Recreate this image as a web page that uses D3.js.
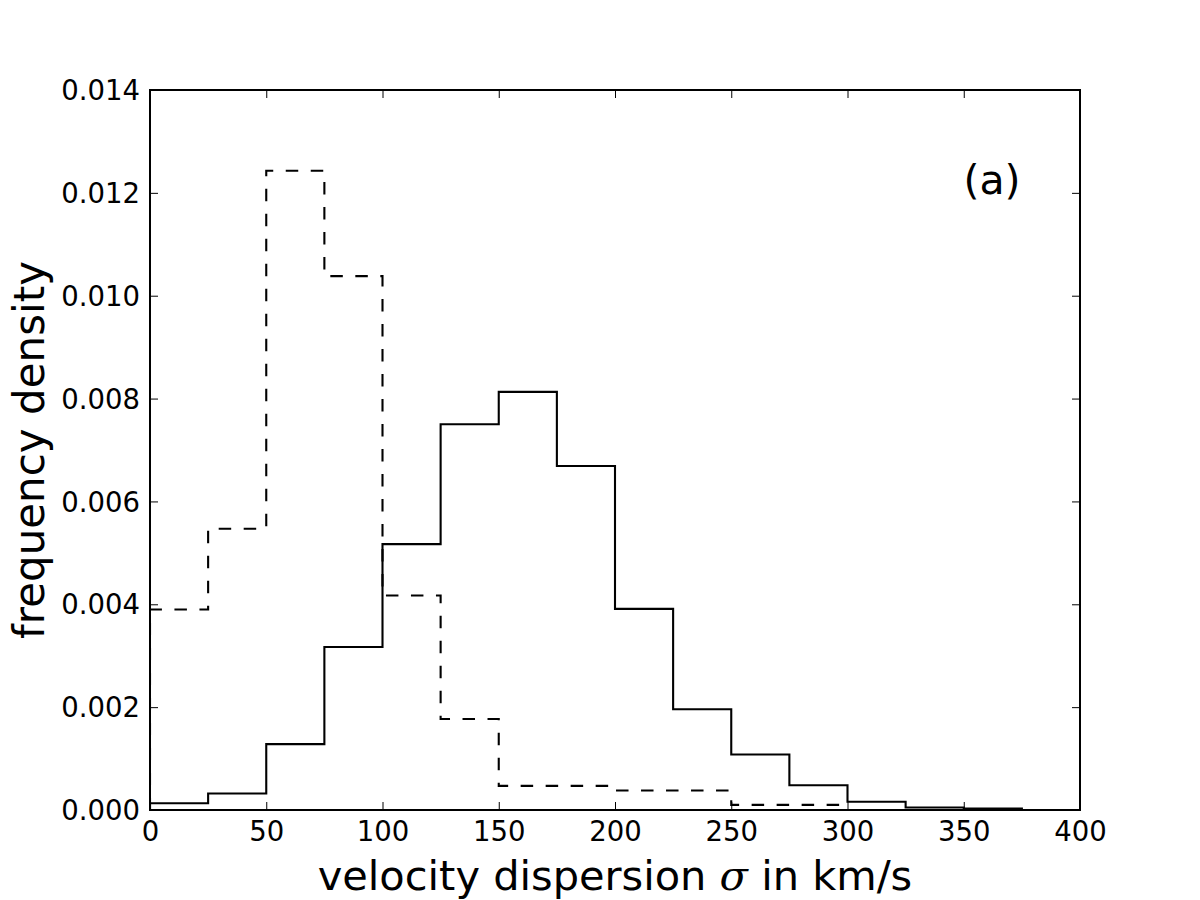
<!DOCTYPE html>
<html>
<head>
<meta charset="utf-8">
<script src="https://cdn.jsdelivr.net/npm/d3@7"></script>
<style>
  html, body { margin: 0; padding: 0; background: #fff; }
  svg { display: block; font-family: "DejaVu Sans", sans-serif; }
</style>
</head>
<body>
<svg id="chart" width="1200" height="900"></svg>
<script>
// ---- data ----
const solidEdges = [0, 25, 50, 75, 100, 125, 150, 175, 200, 225, 250, 275, 300, 325, 350, 375, 400];
const solidValues = [0.00013, 0.00032, 0.00128, 0.00317, 0.00517, 0.0075, 0.00813, 0.00669,
                     0.00391, 0.00196, 0.00108, 0.00048, 0.00016, 0.00005, 0.00003, 0.0];
const dashedEdges = [0, 25, 50, 75, 100, 125, 150, 200, 250, 300];
const dashedValues = [0.0039, 0.00547, 0.01243, 0.01038, 0.00417, 0.00177, 0.00047, 0.00038, 0.0001];
const xTicks = [0, 50, 100, 150, 200, 250, 300, 350, 400];
const yTicks = [0, 0.002, 0.004, 0.006, 0.008, 0.010, 0.012, 0.014];
const xLabel = "velocity dispersion ";
const xLabelSym = "σ";
const xLabelTail = " in km/s";
const yLabel = "frequency density";
const panelLabel = "(a)";

// ---- layout ----
const W = 1200, H = 900;
const m = { left: 150, right: 1080, top: 90, bottom: 810 };
const svg = d3.select("#chart");
const x = d3.scaleLinear().domain([0, 400]).range([m.left, m.right]);
const y = d3.scaleLinear().domain([0, 0.014]).range([m.bottom, m.top]);

function stepPath(edges, values) {
  const p = d3.path();
  p.moveTo(x(edges[0]), y(0));
  values.forEach((v, i) => {
    p.lineTo(x(edges[i]), y(v));
    p.lineTo(x(edges[i + 1]), y(v));
  });
  p.lineTo(x(edges[edges.length - 1]), y(0));
  return p.toString();
}

svg.append("defs").append("clipPath").attr("id", "clip")
  .append("rect").attr("x", m.left).attr("y", m.top)
  .attr("width", m.right - m.left).attr("height", m.bottom - m.top);

const plot = svg.append("g").attr("clip-path", "url(#clip)");
plot.append("path").attr("d", stepPath(dashedEdges, dashedValues))
  .attr("fill", "none").attr("stroke", "#000").attr("stroke-width", 2.1)
  .attr("stroke-dasharray", "12.5,12.5").attr("stroke-linejoin", "miter");
plot.append("path").attr("d", stepPath(solidEdges, solidValues))
  .attr("fill", "none").attr("stroke", "#000").attr("stroke-width", 2.1)
  .attr("stroke-linejoin", "miter");

// ---- axes (ticks inside, all four sides) ----
const tickLen = 8;
const fmtY = d3.format(".3f");
const axB = svg.append("g").attr("transform", `translate(0,${m.bottom})`)
  .call(d3.axisBottom(x).tickValues(xTicks).tickSize(-tickLen).tickPadding(11).tickFormat(d3.format("d")));
const axT = svg.append("g").attr("transform", `translate(0,${m.top})`)
  .call(d3.axisTop(x).tickValues(xTicks).tickSize(-tickLen).tickFormat(""));
const axL = svg.append("g").attr("transform", `translate(${m.left},0)`)
  .call(d3.axisLeft(y).tickValues(yTicks).tickSize(-tickLen).tickPadding(10).tickFormat(fmtY));
const axR = svg.append("g").attr("transform", `translate(${m.right},0)`)
  .call(d3.axisRight(y).tickValues(yTicks).tickSize(-tickLen).tickFormat(""));
[axB, axT, axL, axR].forEach(a => {
  a.select(".domain").remove();
  a.selectAll(".tick line").attr("stroke", "#000").attr("stroke-width", 1);
  a.selectAll(".tick text").attr("fill", "#000").attr("font-size", 27.5)
    .attr("font-family", "DejaVu Sans, sans-serif");
});
axB.selectAll(".tick text").attr("dy", "0.71em");
axL.selectAll(".tick text").attr("dy", "0.35em");

svg.append("rect").attr("x", m.left).attr("y", m.top)
  .attr("width", m.right - m.left).attr("height", m.bottom - m.top)
  .attr("fill", "none").attr("stroke", "#000").attr("stroke-width", 2);

// ---- labels ----
const xl = svg.append("text").attr("x", (m.left + m.right) / 2).attr("y", 890)
  .attr("text-anchor", "middle").attr("font-size", 41.5).attr("fill", "#000");
xl.append("tspan").text(xLabel);
xl.append("tspan").attr("font-family", "DejaVu Serif, serif").attr("font-style", "italic").text(xLabelSym);
xl.append("tspan").text(xLabelTail);

svg.append("text").attr("transform", `translate(44,${(m.top + m.bottom) / 2}) rotate(-90)`)
  .attr("text-anchor", "middle").attr("font-size", 42).attr("fill", "#000").text(yLabel);

svg.append("text").attr("x", 992).attr("y", 194).attr("text-anchor", "middle")
  .attr("font-size", 41).attr("fill", "#000").text(panelLabel);
</script>
</body>
</html>
